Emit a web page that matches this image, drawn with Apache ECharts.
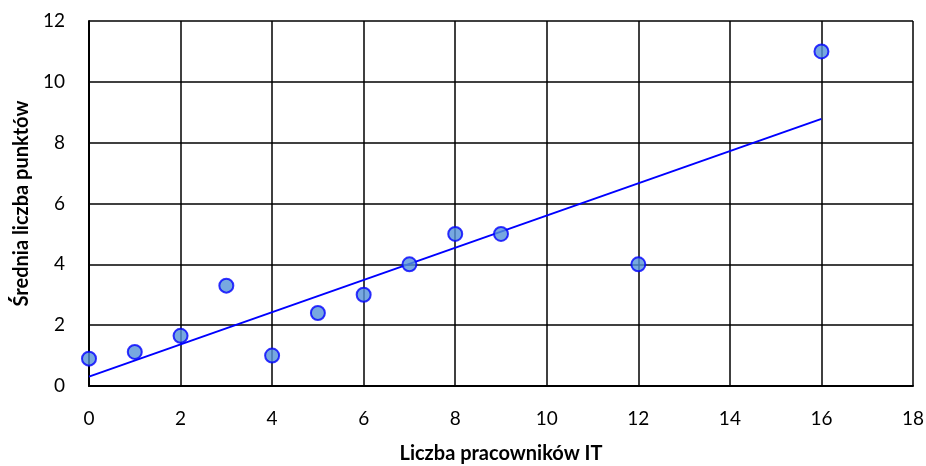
<!DOCTYPE html>
<html><head><meta charset="utf-8">
<script src="https://cdn.jsdelivr.net/npm/echarts@6/dist/echarts.min.js"></script>
<style>html,body{margin:0;padding:0;background:#fff}#c{width:926px;height:466px}</style>
</head><body><div id="c"></div>
<script>
var xValues = [0, 1, 2, 3, 4, 5, 6, 7, 8, 9, 12, 16];
var yValues = [0.9, 1.12, 1.65, 3.3, 1.0, 2.4, 3.0, 4.0, 5.0, 5.0, 4.0, 11.0];
var xTitle = 'Liczba pracowników IT';
var yTitle = 'Średnia liczba punktów';

var n = xValues.length, sx = 0, sy = 0, sxy = 0, sxx = 0;
for (var i = 0; i < n; i++) { sx += xValues[i]; sy += yValues[i]; sxy += xValues[i]*yValues[i]; sxx += xValues[i]*xValues[i]; }
var slope = (n*sxy - sx*sy) / (n*sxx - sx*sx);
var intercept = (sy - slope*sx) / n;
var xMin = Math.min.apply(null, xValues), xMax = Math.max.apply(null, xValues);
var trend = [[xMin, intercept + slope*xMin], [xMax, intercept + slope*xMax]];
var pts = xValues.map(function(x, i){ return [x, yValues[i]]; });

var font = 'Lato, "Open Sans", sans-serif';
var chart = echarts.init(document.getElementById('c'), null, {renderer: 'canvas'});
chart.setOption({
  animation: false,
  grid: {left: 89, right: 13, top: 21, bottom: 80, containLabel: false, outerBoundsMode: 'none'},
  xAxis: {
    type: 'value', min: 0, max: 18, interval: 2,
    name: xTitle, nameLocation: 'middle', nameGap: 58,
    nameTextStyle: {fontFamily: font, fontWeight: 'bold', fontSize: 20, color: '#000'},
    axisLine: {show: true, lineStyle: {color: '#000', width: 2}},
    axisTick: {show: false},
    axisLabel: {fontFamily: font, fontSize: 19, color: '#000', margin: 23},
    splitLine: {show: true, lineStyle: {color: '#000', width: 1.5}}
  },
  yAxis: {
    type: 'value', min: 0, max: 12, interval: 2,
    name: yTitle, nameLocation: 'middle', nameGap: 57,
    nameTextStyle: {fontFamily: font, fontWeight: 'bold', fontSize: 20, color: '#000'},
    axisLine: {show: true, lineStyle: {color: '#000', width: 2}},
    axisTick: {show: false},
    axisLabel: {fontFamily: font, fontSize: 19, color: '#000', margin: 24},
    splitLine: {show: true, lineStyle: {color: '#000', width: 1.5}}
  },
  series: [
    {type: 'line', data: trend, symbol: 'none', lineStyle: {color: '#0000ff', width: 2}, z: 2},
    {type: 'scatter', data: pts, symbol: 'circle', symbolSize: 14,
     itemStyle: {color: '#5592d8', borderColor: '#0000ff', borderWidth: 2}, z: 3}
  ]
});
</script></body></html>
